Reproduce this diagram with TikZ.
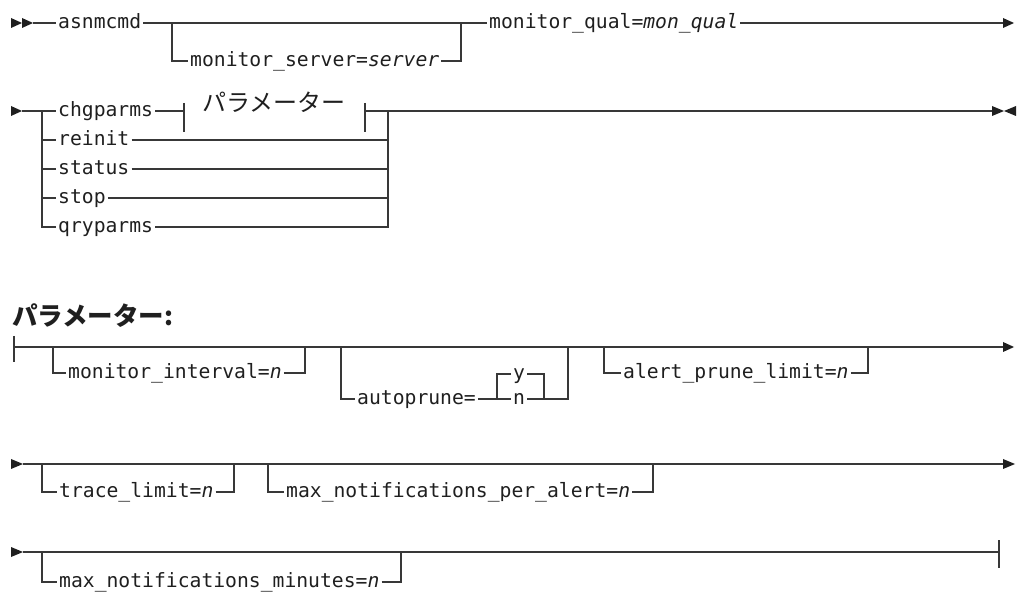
\documentclass[tikz,border=0pt]{standalone}
\usepackage{fontspec}
\setmainfont{DejaVu Sans Mono}
\newfontfamily\jp{Noto Sans CJK JP}
\begin{document}
\fontsize{19.7}{22}\selectfont
\begin{tikzpicture}[x=1pt,y=-1pt,
  ln/.style={draw=black!78, line width=1.2pt},
  lbl/.style={inner xsep=2pt, inner ysep=0pt, font=\fontsize{19.7}{22}\selectfont, text=black!88, anchor=mid west},
  tri/.style={fill=black!88},
  jpt/.style={inner sep=0pt, font=\jp\fontsize{24}{26}\selectfont, text=black!88}]
\useasboundingbox (0,0) rectangle (1018,593);

% ---------- Row 1 ----------
\fill[tri] (11,18) -- (22,23) -- (11,28) -- cycle;
\fill[tri] (22,18) -- (33,23) -- (22,28) -- cycle;
\coordinate (r1s) at (33,23);
\node[lbl] (asn) at (56,23) {asnmcmd};
\coordinate (b1l) at (172,23);
\coordinate (b1r) at (461,23);
\node[lbl] (srv) at (188,61) {monitor\_server=\textit{server}};
\node[lbl] (mq) at (487,23) {monitor\_qual=\textit{mon\_qual}};
\coordinate (r1e) at (1003,23);
\draw[ln] (r1s) -- (asn.mid west);
\draw[ln] (asn.mid east) -- (b1l) -- (b1r) -- (mq.mid west);
\draw[ln] (b1l) |- (srv.mid west);
\draw[ln] (srv.mid east) -| (b1r);
\draw[ln] (mq.mid east) -- (r1e);
\fill[tri] (1003,18) -- (1014,23) -- (1003,28) -- cycle;

% ---------- Row 2 ----------
\fill[tri] (11,106) -- (22,111) -- (11,116) -- cycle;
\coordinate (r2s) at (22,111);
\coordinate (c2l) at (42,111);
\coordinate (c2r) at (388,111);
\node[lbl] (chg) at (56,111) {chgparms};
\node[lbl] (rei) at (56,140) {reinit};
\node[lbl] (sta) at (56,169) {status};
\node[lbl] (stp) at (56,198) {stop};
\node[lbl] (qry) at (56,227) {qryparms};
\coordinate (pb1) at (184,111);
\coordinate (pb2) at (365,111);
\node[jpt] (pm) at (274,102.5) {パラメーター};
\draw[ln] (184,103) -- (184,132);
\draw[ln] (365,103) -- (365,132);
\draw[ln] (r2s) -- (chg.mid west);
\draw[ln] (chg.mid east) -- (pb1);
\draw[ln] (pb2) -- (c2r);
\draw[ln] (c2l) |- (qry.mid west);
\draw[ln] (c2l |- rei.mid west) -- (rei.mid west);
\draw[ln] (c2l |- sta.mid west) -- (sta.mid west);
\draw[ln] (c2l |- stp.mid west) -- (stp.mid west);
\draw[ln] (rei.mid east) -- (c2r |- rei.mid east);
\draw[ln] (sta.mid east) -- (c2r |- sta.mid east);
\draw[ln] (stp.mid east) -- (c2r |- stp.mid east);
\draw[ln] (qry.mid east) -| (c2r);
\coordinate (r2e) at (992,111);
\draw[ln] (c2r) -- (r2e);
\fill[tri] (992,106) -- (1004,111) -- (992,116) -- cycle;
\fill[tri] (1016,106) -- (1004,111) -- (1016,116) -- cycle;

% ---------- Heading ----------
\node[jpt, anchor=west, font=\jp\bfseries\fontsize{25.5}{28}\selectfont] (hd) at (12,316) {パラメーター:};

% ---------- Parameter row A ----------
\coordinate (pas) at (14,347);
\draw[ln] (14,336) -- (14,362);
\coordinate (pae) at (1003,347);
\draw[ln] (pas) -- (pae);
\fill[tri] (1003,342) -- (1014,347) -- (1003,352) -- cycle;
% monitor_interval
\coordinate (a1l) at (53,347);
\coordinate (a1r) at (305,347);
\node[lbl] (mi) at (66,373) {monitor\_interval=\textit{n}};
\draw[ln] (a1l) |- (mi.mid west);
\draw[ln] (mi.mid east) -| (a1r);
% autoprune
\coordinate (a2l) at (341,347);
\coordinate (a2r) at (568,347);
\node[lbl] (ap) at (355,399) {autoprune=};
\coordinate (y1l) at (497,399);
\coordinate (y1r) at (544,399);
\node[lbl, anchor=mid] (yy) at (519,374) {y};
\node[lbl, anchor=mid] (nn) at (519,399) {n};
\draw[ln] (a2l) |- (ap.mid west);
\draw[ln] (ap.mid east) -- (y1l) -- (nn.mid west);
\draw[ln] (y1l) |- (yy.mid west);
\draw[ln] (yy.mid east) -| (y1r);
\draw[ln] (nn.mid east) -- (y1r) -| (a2r);
% alert_prune_limit
\coordinate (a3l) at (604,347);
\coordinate (a3r) at (868,347);
\node[lbl] (al) at (621,373) {alert\_prune\_limit=\textit{n}};
\draw[ln] (a3l) |- (al.mid west);
\draw[ln] (al.mid east) -| (a3r);

% ---------- Parameter row B ----------
\fill[tri] (11,459) -- (23,464) -- (11,469) -- cycle;
\coordinate (pbs) at (23,464);
\coordinate (pbe) at (1003,464);
\draw[ln] (pbs) -- (pbe);
\fill[tri] (1003,459) -- (1015,464) -- (1003,469) -- cycle;
\coordinate (b1a) at (42,464);
\coordinate (b1b) at (234,464);
\node[lbl] (tl) at (57,492) {trace\_limit=\textit{n}};
\draw[ln] (b1a) |- (tl.mid west);
\draw[ln] (tl.mid east) -| (b1b);
\coordinate (b2a) at (268,464);
\coordinate (b2b) at (653,464);
\node[lbl] (mn) at (284,492) {max\_notifications\_per\_alert=\textit{n}};
\draw[ln] (b2a) |- (mn.mid west);
\draw[ln] (mn.mid east) -| (b2b);

% ---------- Parameter row C ----------
\fill[tri] (11,547) -- (23,552) -- (11,557) -- cycle;
\coordinate (pcs) at (23,552);
\coordinate (pce) at (999,552);
\draw[ln] (pcs) -- (pce);
\draw[ln] (999,540) -- (999,568);
\coordinate (c1a) at (42,552);
\coordinate (c1b) at (401,552);
\node[lbl] (mm) at (57,582) {max\_notifications\_minutes=\textit{n}};
\draw[ln] (c1a) |- (mm.mid west);
\draw[ln] (mm.mid east) -| (c1b);
\end{tikzpicture}
\end{document}
